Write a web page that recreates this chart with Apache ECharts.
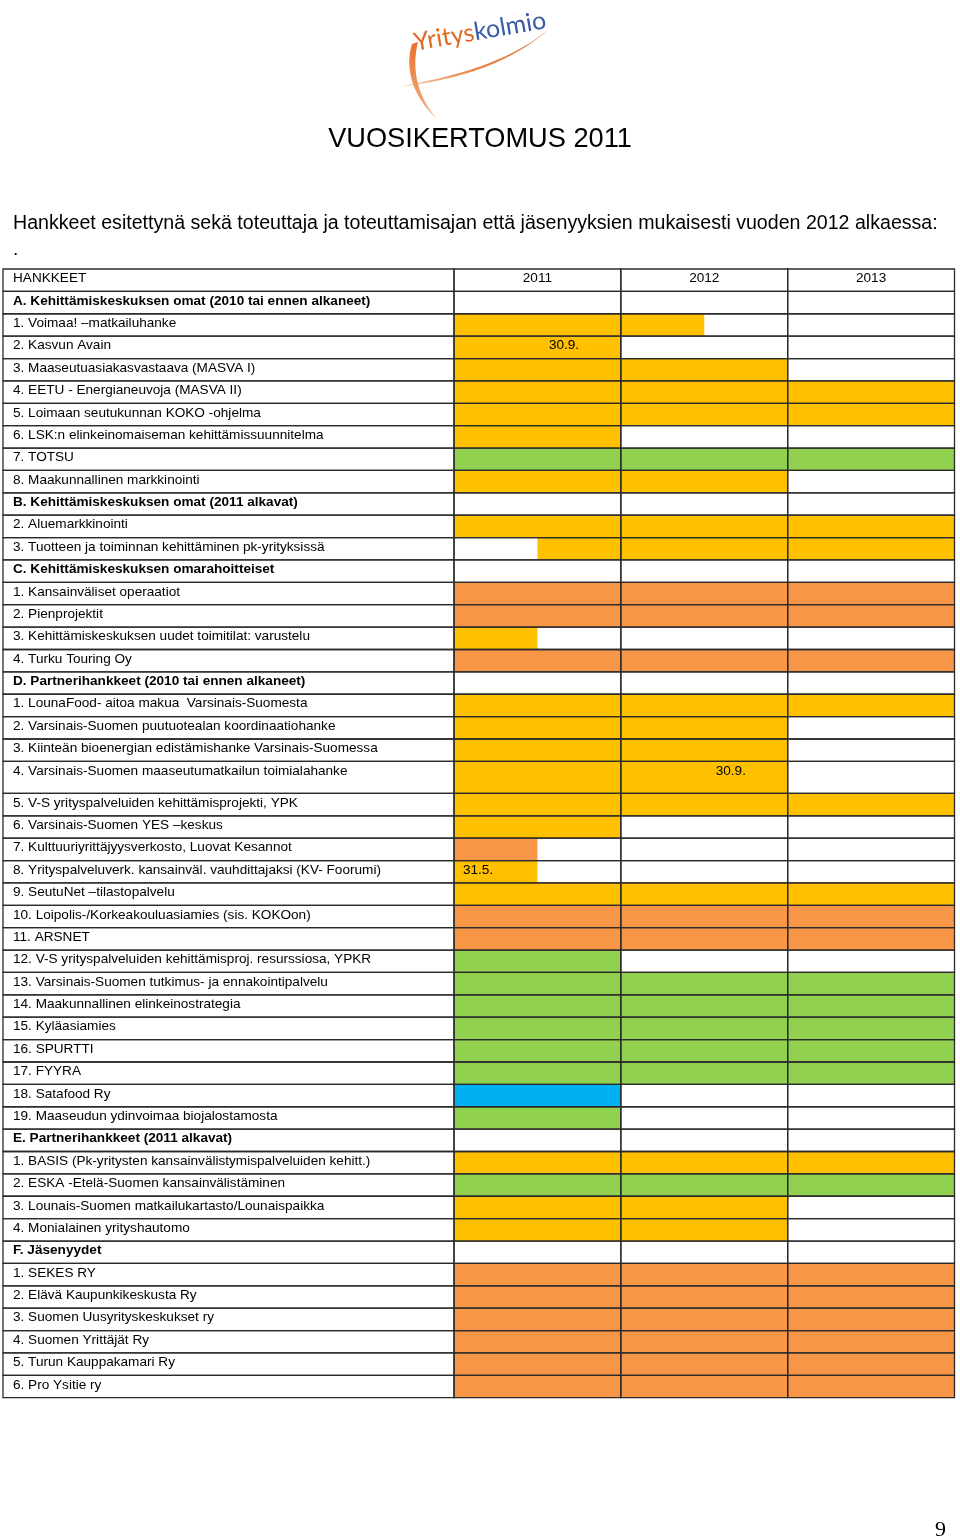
<!DOCTYPE html>
<html><head><meta charset="utf-8">
<script src="https://cdn.jsdelivr.net/npm/echarts@6/dist/echarts.min.js"></script>
<style>html,body{margin:0;padding:0;background:#fff}#c{width:960px;height:1540px}</style>
</head><body><div id="c"></div>
<script>
// ---------- DATA ----------
const years = ['2011', '2012', '2013'];
const headerLabel = 'HANKKEET';
const pageTitle = 'VUOSIKERTOMUS 2011';
const pageSubtitle = 'Hankkeet esitettynä sekä toteuttaja ja toteuttamisajan että jäsenyyksien mukaisesti vuoden 2012 alkaessa:';
const projectNames = [
  'A. Kehittämiskeskuksen omat (2010 tai ennen alkaneet)',
  '1. Voimaa! –matkailuhanke',
  '2. Kasvun Avain',
  '3. Maaseutuasiakasvastaava (MASVA I)',
  '4. EETU - Energianeuvoja (MASVA II)',
  '5. Loimaan seutukunnan KOKO -ohjelma',
  '6. LSK:n elinkeinomaiseman kehittämissuunnitelma',
  '7. TOTSU',
  '8. Maakunnallinen markkinointi',
  'B. Kehittämiskeskuksen omat (2011 alkavat)',
  '2. Aluemarkkinointi',
  '3. Tuotteen ja toiminnan kehittäminen pk-yrityksissä',
  'C. Kehittämiskeskuksen omarahoitteiset',
  '1. Kansainväliset operaatiot',
  '2. Pienprojektit',
  '3. Kehittämiskeskuksen uudet toimitilat: varustelu',
  '4. Turku Touring Oy',
  'D. Partnerihankkeet (2010 tai ennen alkaneet)',
  '1. LounaFood- aitoa makua  Varsinais-Suomesta',
  '2. Varsinais-Suomen puutuotealan koordinaatiohanke',
  '3. Kiinteän bioenergian edistämishanke Varsinais-Suomessa',
  '4. Varsinais-Suomen maaseutumatkailun toimialahanke',
  '5. V-S yrityspalveluiden kehittämisprojekti, YPK',
  '6. Varsinais-Suomen YES –keskus',
  '7. Kulttuuriyrittäjyysverkosto, Luovat Kesannot',
  '8. Yrityspalveluverk. kansainväl. vauhdittajaksi (KV- Foorumi)',
  '9. SeutuNet –tilastopalvelu',
  '10. Loipolis-/Korkeakouluasiamies (sis. KOKOon)',
  '11. ARSNET',
  '12. V-S yrityspalveluiden kehittämisproj. resurssiosa, YPKR',
  '13. Varsinais-Suomen tutkimus- ja ennakointipalvelu',
  '14. Maakunnallinen elinkeinostrategia',
  '15. Kyläasiamies',
  '16. SPURTTI',
  '17. FYYRA',
  '18. Satafood Ry',
  '19. Maaseudun ydinvoimaa biojalostamosta',
  'E. Partnerihankkeet (2011 alkavat)',
  '1. BASIS (Pk-yritysten kansainvälistymispalveluiden kehitt.)',
  '2. ESKA -Etelä-Suomen kansainvälistäminen',
  '3. Lounais-Suomen matkailukartasto/Lounaispaikka',
  '4. Monialainen yrityshautomo',
  'F. Jäsenyydet',
  '1. SEKES RY',
  '2. Elävä Kaupunkikeskusta Ry',
  '3. Suomen Uusyrityskeskukset ry',
  '4. Suomen Yrittäjät Ry',
  '5. Turun Kauppakamari Ry',
  '6. Pro Ysitie ry'
];
// bar start / end in years from start of 2011 (null = no bar)
const barStart = [null,0,0,0,0,0,0,0,0,null,0,0.5,null,0,0,0,0,null,0,0,0,0,0,0,0,0,0,0,0,0,0,0,0,0,0,0,0,null,0,0,0,0,null,0,0,0,0,0,0];
const barEnd   = [null,1.5,1,2,3,3,1,3,2,null,3,3,null,3,3,0.5,3,null,3,2,2,2,3,1,0.5,0.5,3,3,3,1,3,3,3,3,3,1,1,null,3,3,2,2,null,3,3,3,3,3,3];
// Y = yellow, O = orange, G = green, B = blue
const barKind  = [null,'Y','Y','Y','Y','Y','Y','G','Y',null,'Y','Y',null,'O','O','Y','O',null,'Y','Y','Y','Y','Y','Y','O','Y','Y','O','O','G','G','G','G','G','G','B','G',null,'Y','G','Y','Y',null,'O','O','O','O','O','O'];
const noteRows   = [2, 21, 25];
const noteLabels = ['30.9.', '30.9.', '31.5.'];
const notePos    = [0.75, 1.75, 0.235];

// ---------- STYLE / LAYOUT ----------
const kindColor = { Y: '#FFC000', O: '#F79646', G: '#92D050', B: '#00B0F0' };
const FONT = '"Liberation Sans", Arial, Helvetica, sans-serif';
const LINE = '#2b2b2b';
const TEXT_DY = 9.5;
const CELL_FONT = '13.6px ';
const tallRow = 21, tallFactor = 1.43;

const rowTop = [], rowBot = [];
let acc = 1;
projectNames.forEach((n, i) => { rowTop.push(acc); acc += (i === tallRow ? tallFactor : 1); rowBot.push(acc); });
const totalUnits = acc;

const cellItems = [[0, 1, -1]].concat(projectNames.map((n, i) => [rowTop[i], rowBot[i], i]));
const barItems = [];
projectNames.forEach((n, i) => { if (barKind[i]) barItems.push([barStart[i], barEnd[i], rowTop[i], rowBot[i], i]); });

function barRender(params, api) {
  const i = api.value(4);
  const p0 = api.coord([api.value(0), api.value(2)]);
  const p1 = api.coord([api.value(1), api.value(3)]);
  return { type: 'rect', shape: { x: p0[0], y: p0[1], width: p1[0] - p0[0], height: p1[1] - p0[1] },
           style: { fill: kindColor[barKind[i]] } };
}
function cellRender(params, api) {
  const top = api.value(0), bot = api.value(1), idx = api.value(2);
  const children = [];
  for (let c = 0; c < years.length; c++) {
    const p0 = api.coord([c, top]), p1 = api.coord([c + 1, bot]);
    children.push({ type: 'rect', shape: { x: p0[0], y: p0[1], width: p1[0] - p0[0], height: p1[1] - p0[1] },
                    style: { fill: null, stroke: LINE, lineWidth: 1.3 } });
    if (idx === -1) {
      children.push({ type: 'text', style: { x: (p0[0] + p1[0]) / 2, y: p0[1] + TEXT_DY, text: years[c],
        font: CELL_FONT + FONT, fill: '#000', align: 'center', verticalAlign: 'middle' } });
    }
  }
  const n = noteRows.indexOf(idx);
  if (n >= 0) {
    const p = api.coord([notePos[n], top]);
    children.push({ type: 'text', style: { x: p[0], y: p[1] + TEXT_DY, text: noteLabels[n],
      font: CELL_FONT + FONT, fill: '#000', align: 'right', verticalAlign: 'middle' } });
  }
  return { type: 'group', children };
}
function labelRender(params, api) {
  const top = api.value(0), bot = api.value(1), idx = api.value(2);
  const p0 = api.coord([0, top]), p1 = api.coord([1, bot]);
  const name = idx === -1 ? headerLabel : projectNames[idx];
  const bold = /^[A-F]\. /.test(name);
  return { type: 'group', children: [
    { type: 'rect', shape: { x: p0[0], y: p0[1], width: p1[0] - p0[0], height: p1[1] - p0[1] },
      style: { fill: null, stroke: LINE, lineWidth: 1.3 } },
    { type: 'text', style: { x: p0[0] + 10, y: p0[1] + TEXT_DY, text: name,
      font: (bold ? 'bold ' : '') + CELL_FONT + FONT, fill: '#000', align: 'left', verticalAlign: 'middle' } }
  ] };
}

// logo swoosh helper: crescent polygon between two cubic curves
function cubic(p0, c1, c2, p1, n) {
  const pts = [];
  for (let k = 0; k <= n; k++) {
    const t = k / n, u = 1 - t;
    pts.push([u*u*u*p0[0] + 3*u*u*t*c1[0] + 3*u*t*t*c2[0] + t*t*t*p1[0],
              u*u*u*p0[1] + 3*u*u*t*c1[1] + 3*u*t*t*c2[1] + t*t*t*p1[1]]);
  }
  return pts;
}
const swooshH = cubic([397,87],[450,81],[510,66],[551,27],30).concat(cubic([551,27],[512,62],[452,77],[397,87],30));
const swooshV = cubic([412,44],[404,70],[414,98],[437,119],30).concat(cubic([437,119],[418,97],[411,70],[418,42],30));

const chart = echarts.init(document.getElementById('c'), null, { renderer: 'canvas' });
chart.setOption({
  animation: false,
  backgroundColor: '#fff',
  title: [
    { text: pageTitle, left: 'center', top: 126, padding: 0,
      textStyle: { fontFamily: FONT, fontSize: 27.2, fontWeight: 'normal', color: '#000' } },
    { text: pageSubtitle, left: 13, top: 214, padding: 0,
      textStyle: { fontFamily: FONT, fontSize: 19.6, fontWeight: 'normal', color: '#000' } }
  ],
  grid: [
    { left: 3, top: 269, width: 451, height: 1128.7 },
    { left: 454, top: 269, width: 500.5, height: 1128.7 }
  ],
  xAxis: [
    { gridIndex: 0, type: 'value', min: 0, max: 1, show: false },
    { gridIndex: 1, type: 'value', min: 0, max: years.length, show: false }
  ],
  yAxis: [
    { gridIndex: 0, type: 'value', min: 0, max: totalUnits, inverse: true, show: false },
    { gridIndex: 1, type: 'value', min: 0, max: totalUnits, inverse: true, show: false }
  ],
  series: [
    { type: 'custom', xAxisIndex: 1, yAxisIndex: 1, renderItem: barRender, data: barItems,
      encode: { x: [0, 1], y: [2, 3] }, clip: false, z: 1, silent: true },
    { type: 'custom', xAxisIndex: 1, yAxisIndex: 1, renderItem: cellRender, data: cellItems,
      encode: { y: [0, 1] }, clip: false, z: 2, silent: true },
    { type: 'custom', xAxisIndex: 0, yAxisIndex: 0, renderItem: labelRender, data: cellItems,
      encode: { y: [0, 1] }, clip: false, z: 2, silent: true }
  ],
  graphic: [
    { type: 'text', x: 13, y: 250, style: { text: '.', font: '19px ' + FONT, fill: '#000', verticalAlign: 'middle' } },
    { type: 'text', x: 946, y: 1530, style: { text: '9', font: '22px "Liberation Serif", "Times New Roman", serif',
      fill: '#000', align: 'right', verticalAlign: 'middle' } },
    { type: 'polygon', shape: { points: swooshH },
      style: { fill: new echarts.graphic.LinearGradient(0, 0, 1, 0, [
        { offset: 0, color: '#f6c9a6' }, { offset: 0.5, color: '#ec8a4a' }, { offset: 1, color: '#d9702e' }]) } },
    { type: 'polygon', shape: { points: swooshV },
      style: { fill: new echarts.graphic.LinearGradient(0, 0, 0, 1, [
        { offset: 0, color: '#e8702a' }, { offset: 1, color: '#f3b489' }]) } },
    { type: 'text', x: 416, y: 55, rotation: 0.17, style: {
      text: '{a|Yritys}{b|kolmio}', verticalAlign: 'bottom', align: 'left',
      rich: { a: { fill: '#e06a24', font: '25px Lato, "Open Sans", sans-serif' },
              b: { fill: '#3a5ba8', font: '25px Lato, "Open Sans", sans-serif' } } } }
  ]
});
</script>
</body></html>
